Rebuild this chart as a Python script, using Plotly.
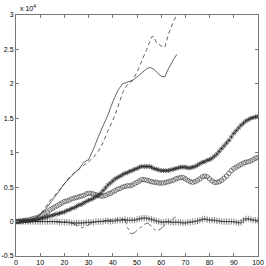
import plotly.graph_objects as go

# x positions for marker series (every integer 0..100)
x_marks = list(range(0, 101))

stars = [0.00,0.00,0.00,0.01,0.01,0.01,0.01,0.02,0.02,0.03,0.04,
         0.05,0.06,0.07,0.08,0.09,0.10,0.11,0.12,0.13,0.14,
         0.16,0.17,0.19,0.20,0.22,0.24,0.25,0.27,0.29,0.31,
         0.32,0.34,0.36,0.38,0.41,0.45,0.49,0.53,0.56,0.59,
         0.62,0.64,0.66,0.68,0.70,0.71,0.73,0.74,0.76,0.77,
         0.79,0.80,0.80,0.80,0.80,0.79,0.77,0.76,0.75,0.74,
         0.74,0.74,0.74,0.75,0.76,0.77,0.78,0.79,0.79,0.79,
         0.78,0.78,0.79,0.80,0.82,0.84,0.86,0.87,0.89,0.90,
         0.92,0.95,0.98,1.02,1.06,1.10,1.14,1.18,1.23,1.28,
         1.32,1.36,1.40,1.43,1.46,1.48,1.50,1.51,1.52,1.53]

circles = [0.00,0.00,0.01,0.01,0.02,0.02,0.03,0.04,0.05,0.06,0.08,
           0.10,0.12,0.14,0.17,0.19,0.21,0.23,0.25,0.27,0.29,
           0.30,0.31,0.33,0.34,0.35,0.36,0.37,0.38,0.40,0.41,
           0.41,0.40,0.39,0.38,0.37,0.37,0.38,0.40,0.41,0.43,
           0.45,0.47,0.48,0.50,0.51,0.52,0.52,0.53,0.55,0.57,
           0.59,0.61,0.61,0.60,0.59,0.58,0.57,0.57,0.56,0.56,
           0.56,0.57,0.58,0.59,0.60,0.62,0.63,0.64,0.64,0.62,
           0.60,0.58,0.57,0.58,0.60,0.62,0.65,0.66,0.65,0.62,
           0.59,0.57,0.57,0.58,0.60,0.63,0.66,0.70,0.74,0.77,
           0.79,0.81,0.83,0.85,0.86,0.87,0.88,0.90,0.92,0.93]

pluses = [0.00,0.00,0.00,0.00,0.00,0.00,0.00,0.00,0.00,0.00,0.00,
          0.00,0.00,0.00,0.00,0.00,0.00,0.00,-0.01,-0.01,-0.01,
          -0.01,-0.01,-0.02,-0.02,-0.02,-0.02,-0.02,-0.02,-0.01,-0.01,
          -0.01,-0.01,0.00,0.00,0.00,0.00,0.01,0.01,0.00,0.01,
          0.01,0.02,0.02,0.02,0.03,0.02,0.02,0.02,0.02,0.03,
          0.04,0.05,0.05,0.05,0.04,0.03,0.02,0.01,0.00,-0.01,
          -0.01,0.00,0.00,-0.01,-0.01,-0.01,-0.01,-0.01,-0.02,-0.02,
          -0.01,-0.01,0.00,0.00,0.01,0.02,0.03,0.04,0.03,0.02,
          0.02,0.02,0.01,0.01,0.00,0.00,0.00,0.00,0.00,0.00,
          -0.01,-0.02,-0.01,0.02,0.04,0.04,0.03,0.02,0.02,0.01]

solid_x = [0,5,8,10,12,14,16,18,20,22,24,26,28,30,32,34,36,38,40,42,44,46,48,50,52,54,55.5,57,58.5,60,61.5,63,65,66.5]
solid_y = [0,0.02,0.05,0.1,0.17,0.26,0.35,0.45,0.55,0.63,0.7,0.76,0.86,0.9,1.05,1.23,1.38,1.55,1.74,1.9,2.0,2.03,2.05,2.1,2.16,2.22,2.24,2.21,2.16,2.11,2.1,2.22,2.35,2.43]

dashed_x = [0,5,8,10,12,14,16,18,20,22,24,26,28,30,32,34,36,38,40,42,44,46,48,50,52,54,56,57,58,60,61.5,63,65,67]
dashed_y = [0,0.01,0.04,0.1,0.2,0.3,0.38,0.46,0.55,0.64,0.71,0.76,0.82,0.87,0.93,1.02,1.15,1.32,1.47,1.65,1.87,1.99,2.04,2.17,2.33,2.5,2.68,2.69,2.6,2.55,2.53,2.72,2.9,3.05]

dashdot_x = [0,10,20,23,25,27,29,31,33,36,40,43,45,46,47.5,49,51,53,54.5,56,58,60,62,64,66]
dashdot_y = [0,0,0,-0.02,-0.05,-0.09,-0.07,-0.02,0.0,0.01,0.02,0.04,0.03,-0.08,-0.18,-0.16,-0.1,-0.04,-0.02,-0.07,-0.14,-0.1,-0.03,0.02,0.07]

x_ticks = [0,10,20,30,40,50,60,70,80,90,100]
y_ticks = [-0.5,0,0.5,1,1.5,2,2.5,3]
y_ticklabels = ["-0.5","0","0.5","1","1.5","2","2.5","3"]

fig = go.Figure()
fig.add_trace(go.Scatter(x=dashdot_x, y=dashdot_y, mode="lines",
                         line=dict(color="#333", width=0.7, dash="dashdot")))
fig.add_trace(go.Scatter(x=solid_x, y=solid_y, mode="lines",
                         line=dict(color="#222", width=0.7)))
fig.add_trace(go.Scatter(x=dashed_x, y=dashed_y, mode="lines",
                         line=dict(color="#222", width=0.7, dash="4px,3px")))
fig.add_trace(go.Scatter(x=x_marks, y=circles, mode="markers",
                         marker=dict(symbol="circle-open", size=4.5, color="#333",
                                     line=dict(width=0.6, color="#333"))))
fig.add_trace(go.Scatter(x=x_marks, y=stars, mode="markers",
                         marker=dict(symbol="asterisk-open", size=4, color="#222",
                                     line=dict(width=0.7, color="#222"))))
fig.add_trace(go.Scatter(x=x_marks, y=pluses, mode="markers",
                         marker=dict(symbol="cross-thin-open", size=4.5, color="#333",
                                     line=dict(width=0.6, color="#333"))))

axis_common = dict(showgrid=False, zeroline=False, showline=True, linecolor="#777",
                   linewidth=1, mirror="ticks", ticks="inside", ticklen=3,
                   tickcolor="#777", automargin=False,
                   tickfont=dict(family="Liberation Sans, Arial", size=7, color="black"))
fig.update_xaxes(range=[0, 100], tickvals=x_ticks, ticktext=[str(t) for t in x_ticks], **axis_common)
fig.update_yaxes(range=[-0.5, 3], tickvals=y_ticks, ticktext=y_ticklabels, **axis_common)

fig.add_annotation(x=0.01, y=1.005, xref="paper", yref="paper", xanchor="left", yanchor="bottom",
                   text="x 10<sup>4</sup>", showarrow=False,
                   font=dict(family="Liberation Sans, Arial", size=7, color="black"))

fig.update_layout(width=266, height=266, showlegend=False,
                  margin=dict(l=16, r=8, t=15, b=10),
                  paper_bgcolor="white", plot_bgcolor="white")

fig.write_html("out.html",
               config={"displayModeBar": False, "staticPlot": True},
               post_script="document.body.style.margin='0';document.body.style.overflow='hidden';")
